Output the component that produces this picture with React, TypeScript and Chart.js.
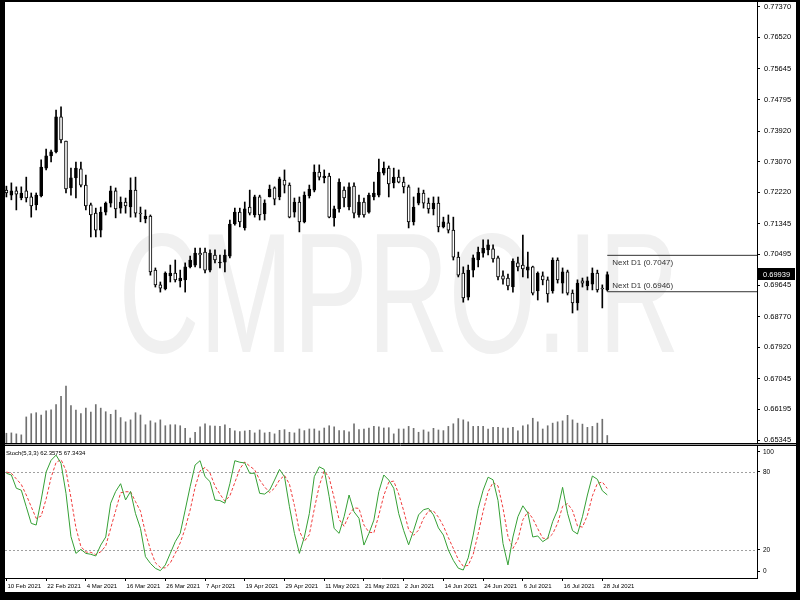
import React, { useEffect, useRef } from "react";
import { Chart, registerables } from "chart.js";
Chart.register(...registerables);

// ---- data (daily bars, 10 Feb 2021 .. 29 Jul 2021) ----
const openP = [0.7228,0.7214,0.7226,0.7206,0.7226,0.7209,0.7187,0.7212,0.7289,0.7323,
0.7334,0.7431,0.7364,0.7234,0.7262,0.7287,0.7242,0.7187,0.7164,0.7117,
0.7167,0.7192,0.7226,0.7178,0.7195,0.7181,0.7228,0.7164,0.7148,0.7156,
0.7006,0.6965,0.6954,0.6990,0.6998,0.6976,0.6979,0.7015,0.7020,0.7053,
0.7056,0.7006,0.7048,0.7026,0.7028,0.7045,0.7134,0.7167,0.7123,0.7181,
0.7159,0.7209,0.7162,0.7209,0.7234,0.7209,0.7256,0.7242,0.7167,0.7195,
0.7140,0.7212,0.7228,0.7278,0.7262,0.7267,0.7151,0.7176,0.7228,0.7181,
0.7239,0.7159,0.7195,0.7167,0.7209,0.7214,0.7275,0.7289,0.7248,0.7264,
0.7250,0.7237,0.7140,0.7192,0.7220,0.7192,0.7176,0.7192,0.7126,0.7137,
0.7117,0.7042,0.6998,0.6931,0.7006,0.7034,0.7053,0.7062,0.7065,0.7040,
0.6990,0.6984,0.6959,0.7026,0.7020,0.7006,0.7015,0.6948,0.6990,0.6979,
0.6948,0.7034,0.6970,0.7001,0.6942,0.6915,0.6976,0.6962,0.6967,0.6998,
0.6956,0.6951];
const highP = [0.7239,0.7248,0.7237,0.7237,0.7264,0.7220,0.7220,0.7312,0.7342,0.7339,
0.7450,0.7459,0.7364,0.7289,0.7306,0.7306,0.7270,0.7192,0.7178,0.7181,
0.7195,0.7239,0.7234,0.7209,0.7206,0.7262,0.7264,0.7181,0.7173,0.7159,
0.7012,0.6973,0.7001,0.7020,0.7034,0.7006,0.7026,0.7045,0.7067,0.7067,
0.7067,0.7062,0.7062,0.7048,0.7062,0.7145,0.7178,0.7178,0.7195,0.7228,
0.7214,0.7214,0.7201,0.7242,0.7237,0.7264,0.7284,0.7248,0.7206,0.7209,
0.7223,0.7242,0.7298,0.7298,0.7284,0.7275,0.7184,0.7259,0.7237,0.7248,
0.7248,0.7214,0.7206,0.7220,0.7250,0.7314,0.7306,0.7295,0.7289,0.7284,
0.7264,0.7242,0.7209,0.7234,0.7228,0.7206,0.7209,0.7209,0.7153,0.7159,
0.7153,0.7056,0.7015,0.7020,0.7048,0.7070,0.7090,0.7090,0.7076,0.7045,
0.7004,0.6995,0.7037,0.7042,0.7103,0.7056,0.7017,0.7001,0.7001,0.6987,
0.7040,0.7040,0.7012,0.7006,0.6951,0.6979,0.6984,0.6987,0.7012,0.7006,
0.6965,0.7001];
const lowP = [0.7209,0.7201,0.7173,0.7201,0.7195,0.7153,0.7173,0.7209,0.7284,0.7306,
0.7331,0.7359,0.7220,0.7214,0.7206,0.7237,0.7173,0.7098,0.7098,0.7098,
0.7159,0.7181,0.7151,0.7164,0.7164,0.7153,0.7153,0.7140,0.7137,0.6992,
0.6959,0.6945,0.6951,0.6973,0.6973,0.6959,0.6945,0.7012,0.7015,0.7012,
0.6998,0.7001,0.7026,0.7012,0.7001,0.7040,0.7131,0.7126,0.7117,0.7159,
0.7153,0.7145,0.7145,0.7209,0.7187,0.7201,0.7220,0.7151,0.7153,0.7112,
0.7137,0.7206,0.7223,0.7256,0.7248,0.7151,0.7128,0.7167,0.7181,0.7173,
0.7151,0.7153,0.7153,0.7164,0.7201,0.7209,0.7270,0.7209,0.7234,0.7248,
0.7220,0.7123,0.7131,0.7187,0.7178,0.7164,0.7159,0.7112,0.7123,0.7109,
0.7034,0.6987,0.6917,0.6923,0.6987,0.7015,0.7042,0.7048,0.7028,0.6979,
0.6967,0.6951,0.6945,0.7004,0.6987,0.6984,0.6937,0.6923,0.6965,0.6917,
0.6942,0.6970,0.6942,0.6937,0.6887,0.6895,0.6959,0.6951,0.6951,0.6945,
0.6901,0.6948];
const closeP = [0.7220,0.7226,0.7217,0.7220,0.7206,0.7184,0.7214,0.7292,0.7323,0.7334,
0.7431,0.7367,0.7231,0.7262,0.7289,0.7242,0.7184,0.7159,0.7117,0.7167,
0.7192,0.7226,0.7176,0.7195,0.7184,0.7228,0.7164,0.7162,0.7156,0.7001,
0.6965,0.6956,0.6998,0.6998,0.6979,0.6984,0.7015,0.7034,0.7053,0.7048,
0.7006,0.7053,0.7034,0.7028,0.7048,0.7134,0.7167,0.7140,0.7176,0.7164,
0.7209,0.7159,0.7192,0.7231,0.7203,0.7259,0.7242,0.7153,0.7195,0.7140,
0.7214,0.7231,0.7278,0.7264,0.7267,0.7153,0.7176,0.7250,0.7206,0.7237,
0.7164,0.7195,0.7159,0.7214,0.7220,0.7278,0.7289,0.7245,0.7264,0.7250,
0.7237,0.7140,0.7181,0.7220,0.7192,0.7176,0.7192,0.7126,0.7140,0.7117,
0.7042,0.6992,0.6929,0.7006,0.7040,0.7056,0.7067,0.7076,0.7037,0.6987,
0.6981,0.6962,0.7031,0.7015,0.7009,0.7015,0.6942,0.6998,0.6979,0.6940,
0.7034,0.6979,0.7001,0.6942,0.6915,0.6970,0.6970,0.6976,0.6998,0.6951,
0.6954,0.69939];
const volume = [30,31,28,25,80,90,93,86,99,102,
118,143,175,115,101,90,107,95,118,107,
96,88,101,78,65,71,93,86,56,68,
62,71,53,56,56,53,45,15,33,50,
59,53,52,51,56,45,37,35,37,39,
31,40,31,33,28,39,41,33,31,43,
38,43,43,37,46,53,50,38,38,34,
59,41,43,46,51,50,46,47,28,43,
43,51,45,33,40,34,45,40,38,51,
59,75,71,65,51,51,51,43,48,48,
46,46,48,37,53,56,76,65,43,53,
61,65,68,85,71,61,58,48,51,61,
73,23];
const stochMain = [79,77.7,67.5,66,53.3,40.5,39.2,58.5,80,89,
93,86.7,63.6,30.3,17.4,20.5,17.4,16.7,15.4,23.8,
30,56,65,71,58.5,65,48,36.6,14.9,9.7,
5.9,4.1,8.5,17.4,26.4,32.8,50.7,68.7,85.4,88.7,
76.4,72.6,58.5,58,56,71,88.7,87.5,87,79,
79,63.6,63,66,73.8,82,76.4,53.3,32.8,17.4,
30,48,76.4,84,82,61,36.6,32.8,45.6,62.3,
49.4,44.4,23.8,32.8,43,65,77.7,73.8,67.5,48,
35,24,35,47,51,52,47,37,31.5,20,
12,6,4.6,14,31.5,52,66,76,74,58,
25,8.5,30,45.6,54,48.5,30,30.8,26.4,29,
41.8,50.8,68.2,48.2,34.9,32.3,45.6,62.3,76.9,74.4,
65.6,62.3575];
const stochSignal = [80,79,74.7,70.4,62.3,53.3,44.3,46.1,59.2,75.8,
87.3,89.6,81.1,60.2,37.1,22.7,18.4,18.2,16.5,18.6,
23.1,36.6,50.3,64,64.8,64.8,57.2,49.9,33.2,20.4,
10.2,6.6,6.2,10,17.4,25.5,36.6,50.7,68.3,80.9,
83.5,79.2,69.2,63,57.5,61.7,71.9,82.4,87.7,84.5,
81.7,73.9,68.5,64.2,67.6,73.9,77.4,70.6,54.2,34.5,
26.7,31.8,51.5,69.5,80.8,75.7,59.9,43.5,38.3,46.9,
52.4,52,39.2,33.7,33.2,46.9,61.9,72.2,73,63.1,
50.2,35.7,31.3,35.3,44.3,50,50,45.3,38.5,29.5,
21.2,12.7,7.5,8.2,16.7,32.5,49.8,64.7,72,69.3,
52.3,30.5,21.2,28,43.2,49.4,44.2,36.4,29.1,28.7,
32.4,40.5,53.6,55.7,50.4,38.5,37.6,46.7,61.6,71.2,
72.3,67.3434];

const dateLabels = ["10 Feb 2021","22 Feb 2021","4 Mar 2021","16 Mar 2021","26 Mar 2021","7 Apr 2021","19 Apr 2021","29 Apr 2021","11 May 2021","21 May 2021","2 Jun 2021","14 Jun 2021","24 Jun 2021","6 Jul 2021","16 Jul 2021","28 Jul 2021"];
const dateLabelBars = [0,8,16,24,32,40,48,56,64,72,80,88,96,104,112,120];
const priceTicks = [0.77370,0.76520,0.75645,0.74795,0.73920,0.73070,0.72220,0.71345,0.70495,0.69645,0.68770,0.67920,0.67045,0.66195,0.65345];
const stochTickValues = [95.4,80,20,3.8];
const stochTickLabels = ["100","80","20","0"];
const stochLevels = [80,20];
const nextD1 = [0.7047,0.6946];
const nextD1Bar = 121;
const lastPrice = 0.69939;
const stochCaption = "Stoch(5,3,3) 62.3575 67.3434";
const watermark = "CMPRO.IR";

// ---- layout constants ----
const X_MIN = -0.282;
const X_MAX = 151.15;
const P_MIN = 0.65262;
const P_MAX = 0.775;
const S_MIN = -1.54;
const S_MAX = 100;
const V_MAX = 1354;
const FONT = "'Liberation Sans', Arial, sans-serif";

const zeroPad = (s: any) => {
  s.paddingTop = 0; s.paddingBottom = 0; s.paddingLeft = 0; s.paddingRight = 0;
};

export default function App() {
  const mainRef = useRef<HTMLCanvasElement>(null);
  const stochRef = useRef<HTMLCanvasElement>(null);

  useEffect(() => {
    document.body.style.margin = "0";
    document.body.style.background = "#000";
    const idx = closeP.map((_, i) => i);

    const mainPlugin = {
      id: "mt4main",
      beforeDatasetsDraw(chart: any) {
        const { ctx, chartArea: a } = chart;
        ctx.save();
        ctx.beginPath();
        ctx.rect(a.left, a.top, a.right - a.left, a.bottom - a.top);
        ctx.clip();
        ctx.fillStyle = "#f0f0f0";
        ctx.font = "170px 'Liberation Sans', Arial, sans-serif";
        ctx.textAlign = "center";
        ctx.textBaseline = "alphabetic";
        ctx.translate(394, 350);
        ctx.scale(0.66, 1);
        ctx.fillText(watermark, 0, 0);
        ctx.restore();
      },
      afterDatasetsDraw(chart: any) {
        const { ctx, scales } = chart;
        const x0 = scales.x.getPixelForValue(nextD1Bar) + 5;
        const yU = scales.y.getPixelForValue(nextD1[0]);
        const yL = scales.y.getPixelForValue(nextD1[1]);
        ctx.save();
        ctx.font = `8px ${FONT}`;
        ctx.fillStyle = "#333";
        ctx.textAlign = "left";
        ctx.textBaseline = "middle";
        ctx.fillText(`Next D1 (${nextD1[0].toFixed(4)})`, x0, yU + 7);
        ctx.fillText(`Next D1 (${nextD1[1].toFixed(4)})`, x0, yL - 6);
        ctx.restore();
      },
      afterDraw(chart: any) {
        const { ctx, scales, chartArea: a } = chart;
        const y = scales.y.getPixelForValue(lastPrice);
        ctx.save();
        ctx.fillStyle = "#000";
        ctx.fillRect(a.right + 1, Math.round(y) - 6, 37, 12);
        ctx.fillStyle = "#fff";
        ctx.font = `7.5px ${FONT}`;
        ctx.textAlign = "left";
        ctx.textBaseline = "middle";
        ctx.fillText(lastPrice.toFixed(5), a.right + 6, y);
        ctx.restore();
      },
    };

    const main = new Chart(mainRef.current as HTMLCanvasElement, {
      type: "bar",
      data: {
        datasets: [
          {
            type: "bar",
            data: idx.map((i) => ({ x: i, y: [openP[i], closeP[i]] })) as any,
            backgroundColor: idx.map((i) => (closeP[i] > openP[i] ? "#000" : "#fff")),
            borderColor: "#000",
            borderWidth: 1,
            borderSkipped: false,
            barThickness: 3,
            grouped: false,
            order: 0,
            yAxisID: "y",
          },
          {
            type: "bar",
            data: idx.map((i) => ({ x: i, y: [lowP[i], highP[i]] })) as any,
            backgroundColor: "#000",
            borderWidth: 0,
            barThickness: 1,
            grouped: false,
            order: 1,
            yAxisID: "y",
          },
          {
            type: "bar",
            data: idx.map((i) => ({ x: i, y: volume[i] })) as any,
            backgroundColor: "#707070",
            borderWidth: 0,
            barThickness: 1,
            grouped: false,
            order: 2,
            yAxisID: "yv",
          },
          ...nextD1.map((v) => ({
            type: "line" as const,
            data: [{ x: nextD1Bar, y: v }, { x: X_MAX, y: v }] as any,
            borderColor: "#333",
            borderWidth: 1,
            pointRadius: 0,
            order: 3,
            yAxisID: "y",
          })),
        ],
      } as any,
      options: {
        animation: false,
        responsive: false,
        events: [],
        layout: { padding: 0 },
        plugins: { legend: { display: false }, tooltip: { enabled: false } },
        scales: {
          x: { type: "linear", min: X_MIN, max: X_MAX, offset: false, display: false },
          y: {
            type: "linear",
            position: "right",
            min: P_MIN,
            max: P_MAX,
            afterBuildTicks: (s: any) => { s.ticks = priceTicks.map((v) => ({ value: v })); },
            afterFit: (s: any) => { s.width = 39; zeroPad(s); },
            ticks: {
              autoSkip: false,
              padding: 4,
              color: "#000",
              font: { family: FONT, size: 7.5 },
              callback: (v: any) => Number(v).toFixed(5),
            },
            grid: { drawOnChartArea: false, drawTicks: true, tickLength: 3, color: "#000" },
            border: { display: true, color: "#000" },
          },
          yv: { type: "linear", display: false, min: 0, max: V_MAX },
        },
      } as any,
      plugins: [mainPlugin],
    });

    const stochPlugin = {
      id: "mt4stoch",
      beforeDatasetsDraw(chart: any) {
        const { ctx, chartArea: a, scales } = chart;
        ctx.save();
        ctx.strokeStyle = "#a0a0a0";
        ctx.lineWidth = 1;
        ctx.setLineDash([2, 2]);
        stochLevels.forEach((lv) => {
          const y = Math.round(scales.y.getPixelForValue(lv)) + 0.5;
          ctx.beginPath();
          ctx.moveTo(a.left, y);
          ctx.lineTo(a.right, y);
          ctx.stroke();
        });
        ctx.restore();
      },
      afterDatasetsDraw(chart: any) {
        const { ctx, chartArea: a } = chart;
        ctx.save();
        ctx.font = `6px ${FONT}`;
        ctx.fillStyle = "#000";
        ctx.textAlign = "left";
        ctx.textBaseline = "middle";
        ctx.fillText(stochCaption, a.left + 1, a.top + 7);
        ctx.restore();
      },
      afterDraw(chart: any) {
        const { ctx, width } = chart;
        ctx.save();
        ctx.lineWidth = 1;
        ctx.strokeStyle = "#000";
        ctx.beginPath(); ctx.moveTo(0, 0.5); ctx.lineTo(width, 0.5); ctx.stroke();
        ctx.strokeStyle = "#999";
        ctx.beginPath(); ctx.moveTo(0, 1.5); ctx.lineTo(width, 1.5); ctx.stroke();
        ctx.strokeStyle = "#000";
        ctx.beginPath(); ctx.moveTo(0, 2.5); ctx.lineTo(width, 2.5); ctx.stroke();
        ctx.restore();
      },
    };

    const stoch = new Chart(stochRef.current as HTMLCanvasElement, {
      type: "line",
      data: {
        datasets: [
          {
            data: idx.map((i) => ({ x: i, y: stochMain[i] })) as any,
            borderColor: "#35a035",
            borderWidth: 1,
            pointRadius: 0,
            tension: 0,
            order: 0,
          },
          {
            data: idx.map((i) => ({ x: i, y: stochSignal[i] })) as any,
            borderColor: "#f03c3c",
            borderWidth: 1,
            borderDash: [3, 2],
            pointRadius: 0,
            tension: 0,
            order: 1,
          },
        ],
      } as any,
      options: {
        animation: false,
        responsive: false,
        events: [],
        layout: { padding: { top: 3, left: 0, right: 0, bottom: 0 } },
        plugins: { legend: { display: false }, tooltip: { enabled: false } },
        scales: {
          x: {
            type: "linear",
            position: "bottom",
            min: X_MIN,
            max: X_MAX,
            offset: false,
            afterBuildTicks: (s: any) => { s.ticks = dateLabelBars.map((v) => ({ value: v })); },
            afterFit: (s: any) => { s.height = 14; zeroPad(s); },
            ticks: {
              autoSkip: false,
              maxRotation: 0,
              minRotation: 0,
              align: "start",
              labelOffset: 1,
              padding: 2,
              color: "#000",
              font: { family: FONT, size: 6 },
              callback: (v: any) => {
                const k = dateLabelBars.indexOf(Number(v));
                return k >= 0 ? dateLabels[k] : "";
              },
            },
            grid: { drawOnChartArea: false, drawTicks: true, tickLength: 3, color: "#000" },
            border: { display: true, color: "#000" },
          },
          y: {
            type: "linear",
            position: "right",
            min: S_MIN,
            max: S_MAX,
            afterBuildTicks: (s: any) => { s.ticks = stochTickValues.map((v) => ({ value: v })); },
            afterFit: (s: any) => { s.width = 39; zeroPad(s); },
            ticks: {
              autoSkip: false,
              padding: 3,
              color: "#000",
              font: { family: FONT, size: 6.5 },
              callback: (v: any) => {
                const k = stochTickValues.indexOf(Number(v));
                return k >= 0 ? stochTickLabels[k] : "";
              },
            },
            grid: { drawOnChartArea: false, drawTicks: true, tickLength: 3, color: "#000" },
            border: { display: true, color: "#000" },
          },
        },
      } as any,
      plugins: [stochPlugin],
    });

    return () => {
      main.destroy();
      stoch.destroy();
    };
  }, []);

  return (
    <div style={{ position: "fixed", left: 0, top: 0, width: 800, height: 600, background: "#000" }}>
      <canvas
        ref={mainRef}
        width={791}
        height={441}
        style={{ position: "absolute", left: 5, top: 2, background: "#fff" }}
      />
      <canvas
        ref={stochRef}
        width={791}
        height={149}
        style={{ position: "absolute", left: 5, top: 443, background: "#fff" }}
      />
    </div>
  );
}
